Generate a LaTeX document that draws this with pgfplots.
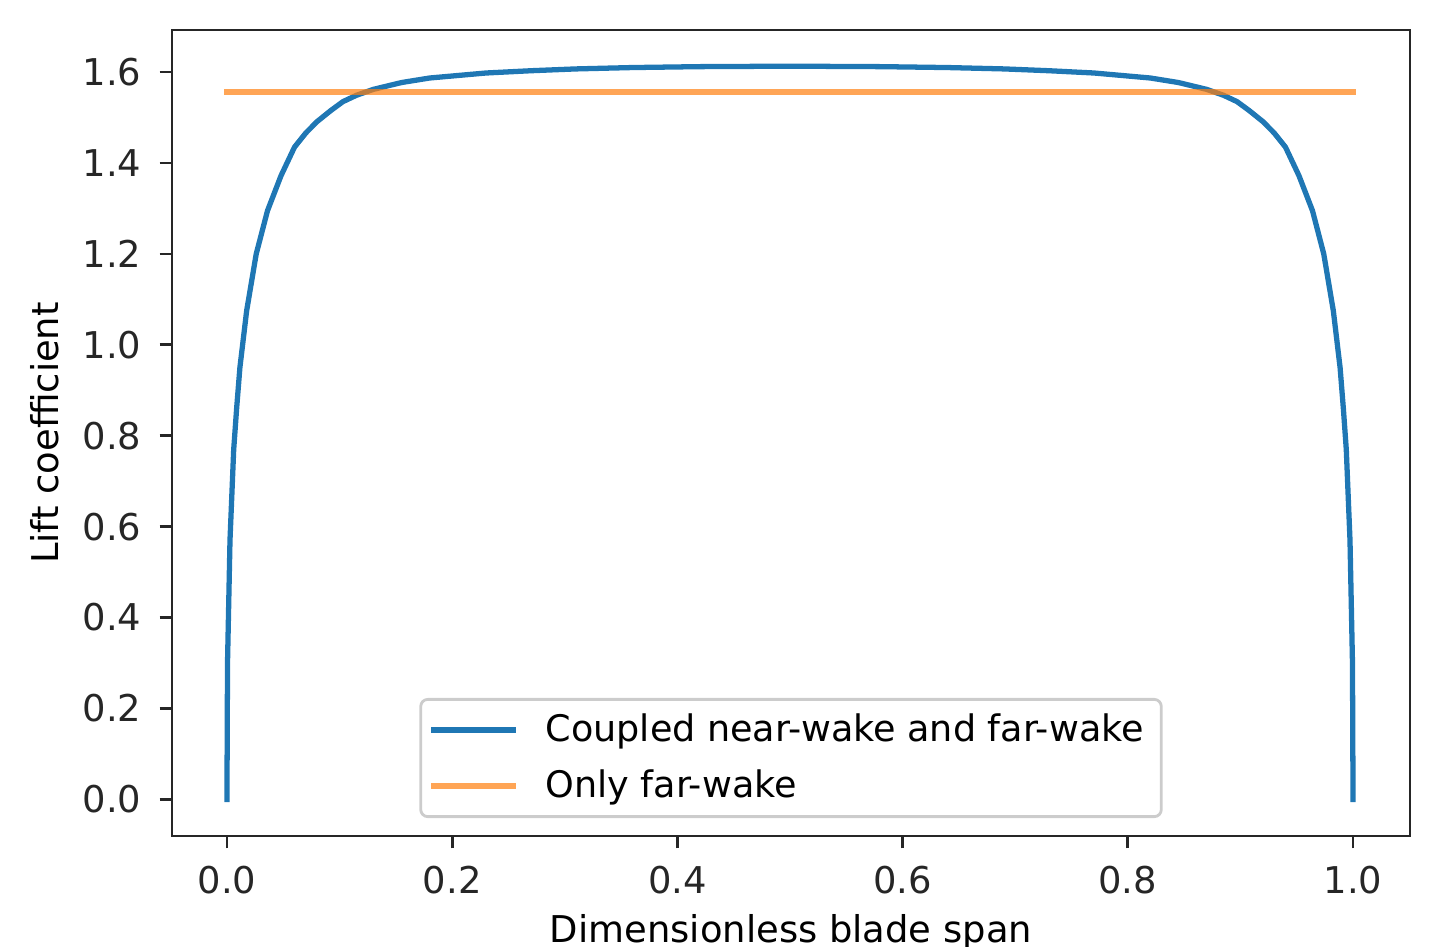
\documentclass[border=0pt]{standalone}
\usepackage{fontspec}
\setmainfont{DejaVu Sans}
\usepackage{pgfplots}
\pgfplotsset{compat=1.18}
\usetikzlibrary{calc}
\definecolor{mplblue}{HTML}{1F77B4}
\definecolor{mplorange}{HTML}{FF7F0E}
\definecolor{spine}{HTML}{262626}

% lift coefficient along the span, coupled near-wake + far-wake
\pgfplotstableread{
x       cl
0       0
0.0005  0.30
0.0027  0.57
0.006   0.77
0.0086  0.86
0.0115  0.95
0.0175  1.075
0.026   1.20
0.036   1.295
0.048   1.372
0.060   1.435
0.070   1.466
0.080   1.491
0.092   1.515
0.103   1.535
0.115   1.549
0.130   1.562
0.155   1.577
0.180   1.587
0.230   1.598
0.270   1.603
0.310   1.607
0.360   1.610
0.420   1.612
0.500   1.613
0.580   1.612
0.640   1.610
0.690   1.607
0.730   1.603
0.770   1.598
0.820   1.587
0.845   1.577
0.870   1.562
0.885   1.549
0.897   1.535
0.908   1.515
0.920   1.491
0.930   1.466
0.940   1.435
0.952   1.372
0.964   1.295
0.974   1.20
0.9825  1.075
0.9885  0.95
0.9914  0.86
0.994   0.77
0.9973  0.57
0.9995  0.30
1       0
}\coupled

\begin{document}
\begin{tikzpicture}
\begin{axis}[
  scale only axis, width=12.38cm, height=8.06cm,
  xmin=-0.0488, xmax=1.0506, ymin=-0.0806, ymax=1.6926,
  xtick={0,0.2,0.4,0.6,0.8,1.0},
  ytick={0,0.2,0.4,0.6,0.8,1.0,1.2,1.4,1.6},
  tick align=outside, xtick pos=bottom, ytick pos=left,
  major tick length=1.23mm,
  tick style={spine, line width=0.8pt},
  axis line style={spine, line width=0.8pt},
  tick label style={font=\fontsize{10.5}{12.5}\selectfont, text=spine},
  /pgf/number format/.cd, fixed, fixed zerofill, precision=1, assume math mode=true,
  /pgfplots/.cd,
  xticklabel shift=0.5mm, yticklabel shift=0.6mm,
  every axis x label/.style={at={(axis description cs:0.5,0)}, anchor=center, yshift=-9.6mm},
  every axis y label/.style={at={(axis description cs:0,0.5)}, xshift=-12.7mm, rotate=90, anchor=center},
  label style={font=\fontsize{10.5}{12.5}\selectfont, text=black},
  xlabel={Dimensionless blade span},
  ylabel={Lift coefficient},
  legend cell align=left,
  legend style={at={(0.5,0.0223)}, anchor=south, draw=black!20, line width=0.8pt,
    rounded corners=2pt, fill=white, font=\fontsize{10.4}{12.5}\selectfont,
    inner xsep=3pt, inner ysep=2pt, row sep=0.9mm},
  legend image code/.code={\draw[#1] (0cm,0cm) -- (0.79cm,0cm); \path (1.02cm,0cm);},
]
\addplot[mplblue, line width=1.5pt, line cap=rect, line join=round] table[x=x, y=cl] {\coupled};
\addlegendentry{Coupled near-wake and far-wake}
\addplot[mplorange, opacity=0.7, line width=1.5pt, line cap=rect] coordinates {(0,1.556) (1,1.556)};
\addlegendentry{Only far-wake}
\end{axis}
\pgfresetboundingbox
\path ($(current axis.south west)+(-1.72cm,-1.10cm)$) rectangle ($(current axis.north east)+(0.20cm,0.30cm)$);
\end{tikzpicture}
\end{document}
